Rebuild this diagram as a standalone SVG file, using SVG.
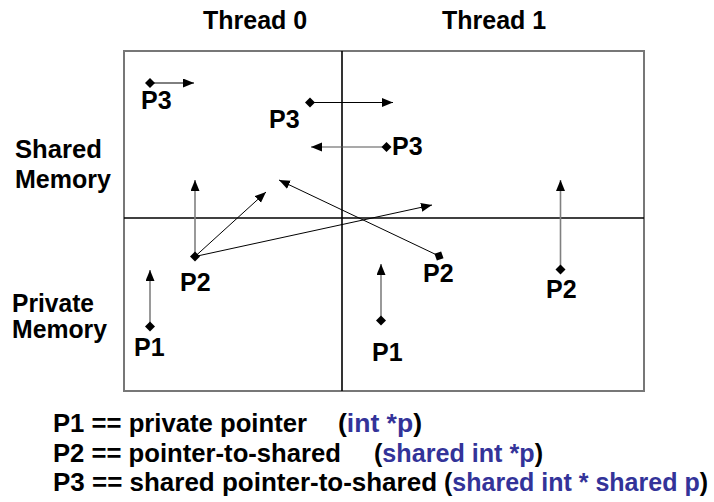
<svg xmlns="http://www.w3.org/2000/svg" width="714" height="502" viewBox="0 0 714 502">
  <style>
    text { font-family: "Liberation Sans", Arial, sans-serif; font-weight: bold; fill: #000; }
    .head { font-size: 25px; }
    .side { font-size: 25px; }
    .lbl { font-size: 25px; }
    .legend { font-size: 25px; }
    .code { fill: #333399; }
    .frame { fill: none; stroke: #777; stroke-width: 2; }
    .split { stroke: #000; stroke-width: 1.6; }
    .thin { fill: none; stroke: #000; stroke-width: 1; marker-end: url(#head); }
    .grey { fill: none; stroke: #808080; stroke-width: 1.6; marker-end: url(#head); }
    .dim { fill: none; stroke: #555; stroke-width: 1.2; marker-end: url(#head); }
  </style>
  <defs>
    <marker id="head" markerUnits="userSpaceOnUse" markerWidth="12" markerHeight="10" refX="11" refY="4.5" orient="auto">
      <path d="M0,0 L11,4.5 L0,9 Z" fill="#000"/>
    </marker>
    <path id="dot" d="M0,-5 L5,0 L0,5 L-5,0 Z" fill="#000"/>
  </defs>

  <!-- memory grid: threads across, shared/private down -->
  <g id="grid">
    <rect class="frame" x="124" y="51" width="520" height="340"/>
    <line class="split" x1="342" y1="51" x2="342" y2="391"/>
    <line class="split" x1="124" y1="218" x2="644" y2="218" stroke-width="2"/>
  </g>

  <g id="headings">
    <text class="head" x="203" y="29">Thread 0</text>
    <text class="head" x="442" y="29">Thread 1</text>
    <text class="side" x="15" y="158" textLength="87" lengthAdjust="spacingAndGlyphs">Shared</text>
    <text class="side" x="15" y="188" textLength="96" lengthAdjust="spacingAndGlyphs">Memory</text>
    <text class="side" x="12" y="312" textLength="82" lengthAdjust="spacingAndGlyphs">Private</text>
    <text class="side" x="12" y="338" textLength="95" lengthAdjust="spacingAndGlyphs">Memory</text>
  </g>

  <!-- pointer targets -->
  <g id="connectors">
    <line class="thin" x1="150" y1="83" x2="194" y2="83"/>
    <line class="thin" x1="310" y1="102.5" x2="393" y2="102.5"/>
    <line class="dim" x1="386.5" y1="147" x2="311" y2="147"/>
    <line class="grey" x1="195" y1="256.5" x2="195" y2="180"/>
    <line class="thin" x1="195" y1="256.5" x2="266" y2="192"/>
    <line class="thin" x1="195" y1="256.5" x2="432" y2="205"/>
    <line class="thin" x1="439" y1="256" x2="279" y2="180"/>
    <line class="grey" x1="150" y1="326.5" x2="150" y2="270"/>
    <line class="grey" x1="381" y1="320.5" x2="381" y2="264"/>
    <line class="grey" x1="560.5" y1="269.5" x2="560.5" y2="180"/>
  </g>

  <!-- pointer variables -->
  <g id="p3-t0-shared">
    <use href="#dot" x="150" y="83"/>
    <text class="lbl" x="141" y="109">P3</text>
  </g>
  <g id="p3-mid-a">
    <use href="#dot" x="310" y="102.5"/>
    <text class="lbl" x="269" y="128">P3</text>
  </g>
  <g id="p3-mid-b">
    <use href="#dot" x="386.5" y="147"/>
    <text class="lbl" x="392" y="155">P3</text>
  </g>
  <g id="p2-t0">
    <use href="#dot" x="195" y="256.5"/>
    <text class="lbl" x="180" y="291">P2</text>
  </g>
  <g id="p1-t0">
    <use href="#dot" x="150" y="326.5"/>
    <text class="lbl" x="134" y="356">P1</text>
  </g>
  <g id="p2-t1-a">
    <use href="#dot" transform="translate(439 256) rotate(25.4)"/>
    <text class="lbl" x="423" y="282">P2</text>
  </g>
  <g id="p1-t1">
    <use href="#dot" x="381" y="320.5"/>
    <text class="lbl" x="372" y="361">P1</text>
  </g>
  <g id="p2-t1-b">
    <use href="#dot" x="560.5" y="269.5"/>
    <text class="lbl" x="546" y="298">P2</text>
  </g>

  <g id="legend">
    <text class="legend" x="53" y="432" textLength="254" lengthAdjust="spacingAndGlyphs">P1 == private pointer</text>
    <text class="legend" x="338" y="432" textLength="84" lengthAdjust="spacingAndGlyphs">(<tspan class="code">int *p</tspan>)</text>
    <text class="legend" x="53" y="462" textLength="288" lengthAdjust="spacingAndGlyphs">P2 == pointer-to-shared</text>
    <text class="legend" x="374" y="462" textLength="169" lengthAdjust="spacingAndGlyphs">(<tspan class="code">shared int *p</tspan>)</text>
    <text class="legend" x="53" y="491" textLength="384" lengthAdjust="spacingAndGlyphs">P3 == shared pointer-to-shared</text>
    <text class="legend" x="444" y="491" textLength="264" lengthAdjust="spacingAndGlyphs">(<tspan class="code">shared int * shared p</tspan>)</text>
  </g>
</svg>
